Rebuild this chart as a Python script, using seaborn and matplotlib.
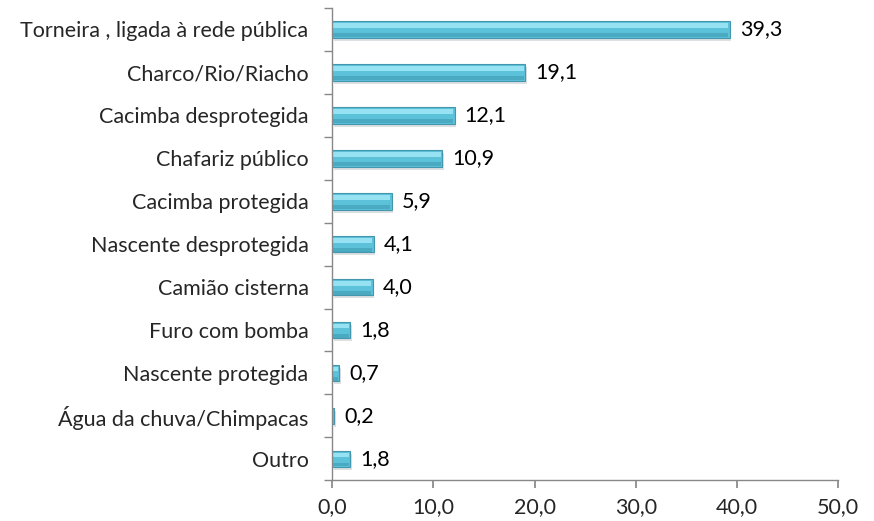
import matplotlib
matplotlib.use("Agg")
import matplotlib.pyplot as plt
import seaborn as sns
import pandas as pd
from matplotlib.patches import Rectangle
from matplotlib.ticker import FixedLocator

categories = [
    "Torneira , ligada à rede pública",
    "Charco/Rio/Riacho",
    "Cacimba desprotegida",
    "Chafariz público",
    "Cacimba protegida",
    "Nascente desprotegida",
    "Camião cisterna",
    "Furo com bomba",
    "Nascente protegida",
    "Água da chuva/Chimpacas",
    "Outro",
]
values = [39.3, 19.1, 12.1, 10.9, 5.9, 4.1, 4.0, 1.8, 0.7, 0.2, 1.8]
xticks = [0, 10, 20, 30, 40, 50]

sns.set_theme(style="white")
plt.rcParams["font.family"] = ["Lato", "DejaVu Sans"]
FS = 15.5

df = pd.DataFrame({"cat": categories, "val": values})

fig = plt.figure(figsize=(8.74, 5.21), dpi=100)
ax = fig.add_axes([0.38, 0.078, 0.579, 0.907])

sns.barplot(data=df, x="val", y="cat", orient="h", color="#5CC2D9",
            width=0.39, edgecolor="#4396AC", linewidth=0.8, saturation=1,
            ax=ax)

# Soft shadow and light top highlight on every bar
for p in list(ax.patches):
    x0, y0 = p.get_x(), p.get_y()
    w, h = p.get_width(), p.get_height()
    ax.add_patch(Rectangle((x0 + 0.15, y0 + 0.07), w, h, color="#8E9A9F",
                           alpha=0.3, zorder=p.get_zorder() - 0.1, lw=0))
    ax.add_patch(Rectangle((x0 + 0.1, y0 + 0.05), max(w - 0.25, 0), h * 0.28,
                           color="#9DE6F5", alpha=0.9,
                           zorder=p.get_zorder() + 0.1, lw=0))
    ax.add_patch(Rectangle((x0 + 0.1, y0 + h * 0.75), max(w - 0.25, 0), h * 0.2,
                           color="#3E9AB2", alpha=0.6,
                           zorder=p.get_zorder() + 0.1, lw=0))

for i, v in enumerate(values):
    ax.text(v + 1.0, i, f"{v:.1f}".replace(".", ","), va="center",
            ha="left", fontsize=FS, color="black")

ax.set_xlim(0, 50)
ax.set_ylim(len(categories) - 0.5, -0.5)
ax.set_xticks(xticks)
ax.set_xticklabels([f"{t:.1f}".replace(".", ",") for t in xticks], fontsize=FS)
ax.set_yticks(range(len(categories)))
ax.set_yticklabels(categories, fontsize=FS)
ax.yaxis.set_minor_locator(FixedLocator([i - 0.5 for i in range(len(categories) + 1)]))
ax.tick_params(axis="y", which="major", length=0, pad=17)
ax.tick_params(axis="y", which="minor", length=6, color="#888888", left=True, direction="out")
ax.tick_params(axis="x", length=6, color="#888888", direction="out", bottom=True, pad=6)
ax.set_xlabel("")
ax.set_ylabel("")
for s in ["top", "right"]:
    ax.spines[s].set_visible(False)
for s in ["left", "bottom"]:
    ax.spines[s].set_color("#888888")
    ax.spines[s].set_linewidth(1)

fig.savefig("out.png", dpi=100)
